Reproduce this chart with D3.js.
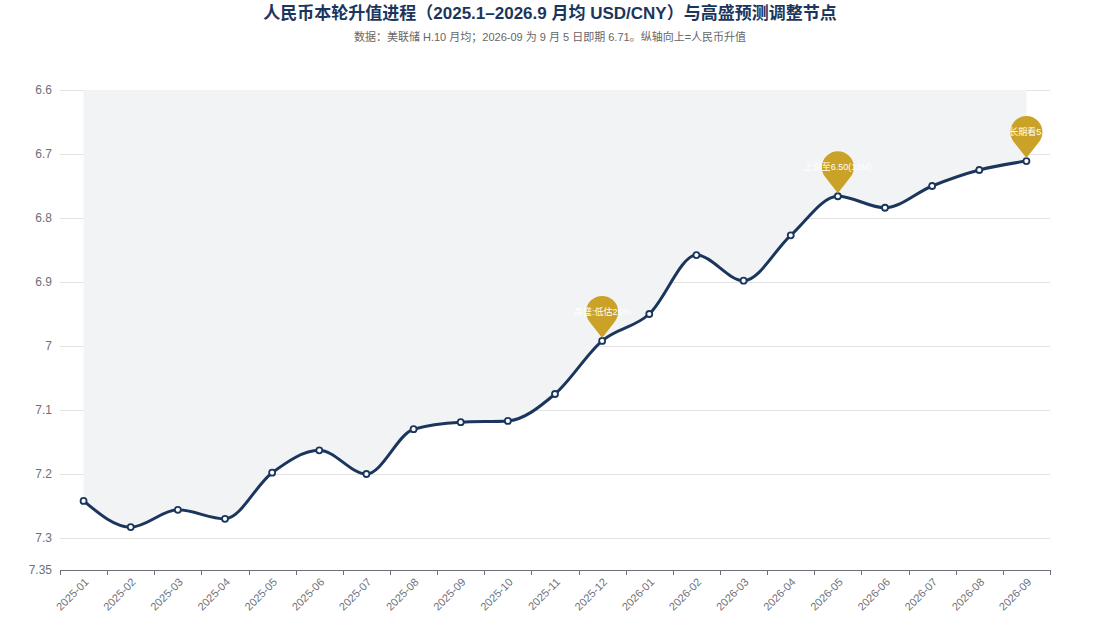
<!DOCTYPE html>
<html><head><meta charset="utf-8">
<script src="https://cdn.jsdelivr.net/npm/d3@7/dist/d3.min.js"></script>
<style>html,body{margin:0;padding:0;background:#fff;}svg{display:block;font-family:"Liberation Sans","Noto Sans CJK SC",sans-serif;}</style>
</head><body>
<svg id="c" width="1100" height="620"></svg>
<script>
const months = ["2025-01","2025-02","2025-03","2025-04","2025-05","2025-06","2025-07","2025-08","2025-09","2025-10","2025-11","2025-12","2026-01","2026-02","2026-03","2026-04","2026-05","2026-06","2026-07","2026-08","2026-09"];
const usdcny = [7.242,7.283,7.256,7.27,7.198,7.163,7.2,7.13,7.119,7.117,7.075,6.992,6.95,6.858,6.898,6.827,6.766,6.784,6.75,6.725,6.711];
const yTicks = [6.6,6.7,6.8,6.9,7.0,7.1,7.2,7.3,7.35];
const yTickLabels = ["6.6","6.7","6.8","6.9","7","7.1","7.2","7.3","7.35"];
const pinMonths = ["2025-12","2026-05","2026-09"];
const pinLabels = ["高盛:低估25%","上调至6.50(12M)","长期看5."];

const svg = d3.select("#c");
const L=60,R=1050,T=90,B=570;
const x = d3.scaleBand().domain(months).range([L,R]).paddingInner(0).paddingOuter(0);
const cx = m => x(m)+x.bandwidth()/2;
const y = d3.scaleLinear().domain([6.6,7.35]).range([T,B]);

svg.append("text").attr("x",550).attr("y",19).attr("text-anchor","middle")
  .attr("font-size",17).attr("font-weight","bold").attr("fill","#1b365d")
  .text("人民币本轮升值进程（2025.1–2026.9 月均 USD/CNY）与高盛预测调整节点");
svg.append("text").attr("x",550).attr("y",41).attr("text-anchor","middle")
  .attr("font-size",11).attr("fill","#666")
  .text("数据：美联储 H.10 月均；2026-09 为 9 月 5 日即期 6.71。纵轴向上=人民币升值");

// gridlines
svg.append("g").selectAll("line").data(yTicks.filter(d=>d<7.35)).join("line")
  .attr("x1",L).attr("x2",R).attr("y1",d=>Math.round(y(d))+0.5).attr("y2",d=>Math.round(y(d))+0.5)
  .attr("stroke","#e3e3e3").attr("stroke-width",1);

// y labels
svg.append("g").selectAll("text").data(yTicks).join("text")
  .attr("x",52).attr("y",d=>y(d)).attr("dy","0.35em").attr("text-anchor","end")
  .attr("font-size",12).attr("fill","#6e7079").text((d,i)=>yTickLabels[i]);

const pts = months.map((m,i)=>({m,v:usdcny[i]}));
const curve = d3.curveMonotoneX;

// area between line and top
const area = d3.area().x(d=>cx(d.m)).y0(T).y1(d=>y(d.v)).curve(curve);
svg.append("path").datum(pts).attr("d",area).attr("fill","#f2f3f5");

// x axis
const ax = svg.append("g");
ax.append("line").attr("x1",L).attr("x2",R).attr("y1",B+0.5).attr("y2",B+0.5).attr("stroke","#6e7079");
const bounds = months.map(m=>x(m)).concat([R]);
ax.selectAll("line.t").data(bounds).join("line").attr("class","t")
  .attr("x1",d=>Math.round(d)+0.5).attr("x2",d=>Math.round(d)+0.5).attr("y1",B).attr("y2",B+5).attr("stroke","#6e7079");
ax.selectAll("text").data(months).join("text")
  .attr("transform",m=>`translate(${cx(m)+3},${B+10}) rotate(-45)`)
  .attr("text-anchor","end").attr("dy","0.35em").attr("font-size",11).attr("fill","#6e7079")
  .text(m=>m);

// line
const line = d3.line().x(d=>cx(d.m)).y(d=>y(d.v)).curve(curve);
svg.append("path").datum(pts).attr("d",line).attr("fill","none")
  .attr("stroke","#1b365d").attr("stroke-width",3).attr("stroke-linejoin","round");

svg.append("g").selectAll("circle").data(pts).join("circle")
  .attr("cx",d=>cx(d.m)).attr("cy",d=>y(d.v)).attr("r",3)
  .attr("fill","#fff").attr("stroke","#1b365d").attr("stroke-width",1.8);

// pins
function pinPath(w,h){
  const r=w/2, cy=-h+r;
  const d=-cy; const ang=Math.asin(r/d);
  const tx=r*Math.cos(ang), ty=cy+r*Math.sin(ang);
  return `M0,0 L${-tx},${ty} A${r},${r} 0 1 1 ${tx},${ty} Z`;
}
const pins = pinMonths.map((m,i)=>({m,label:pinLabels[i],v:usdcny[months.indexOf(m)]}));
const pg = svg.append("g").selectAll("g").data(pins).join("g")
  .attr("transform",d=>`translate(${cx(d.m)},${y(d.v)-3})`);
pg.append("path").attr("d",pinPath(32,42)).attr("fill","#c9a227");
pg.append("text").attr("x",0).attr("y",-26).attr("dy","0.35em").attr("text-anchor","middle")
  .attr("font-size",9).attr("fill","#fff").text(d=>d.label);
</script>
</body></html>
